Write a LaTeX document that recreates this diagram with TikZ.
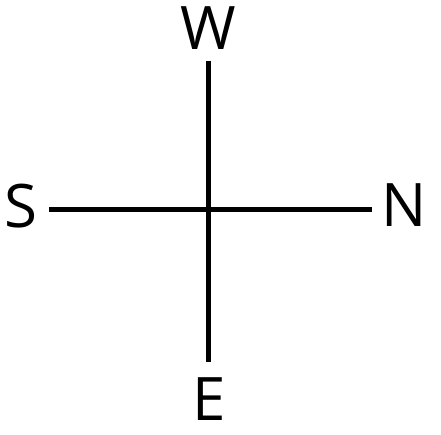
\documentclass[tikz,border=0pt]{standalone}
\usepackage{fontspec}
\setmainfont{Open Sans}
\begin{document}
\begin{tikzpicture}[x=1pt, y=-1pt, line width=5pt,
  dirlabel/.style={font=\fontsize{60}{60}\selectfont, inner sep=0pt, text height=43pt, text depth=0pt}]
\useasboundingbox (0,0) rectangle (441,434);
\coordinate (c) at (208,209.5);
\node[dirlabel] (W) at (208.5,27.5) {W};
\node[dirlabel] (E) at (209,399) {E};
\node[dirlabel] (S) at (20.5,205.5) {S};
\node[dirlabel] (N) at (404,205) {N};
\draw[shorten <=9pt, shorten >=13pt] (W.south -| c) -- (E.north -| c);
\draw[shorten <=10pt, shorten >=7pt] (S.east |- c) -- (N.west |- c);
\end{tikzpicture}
\end{document}
